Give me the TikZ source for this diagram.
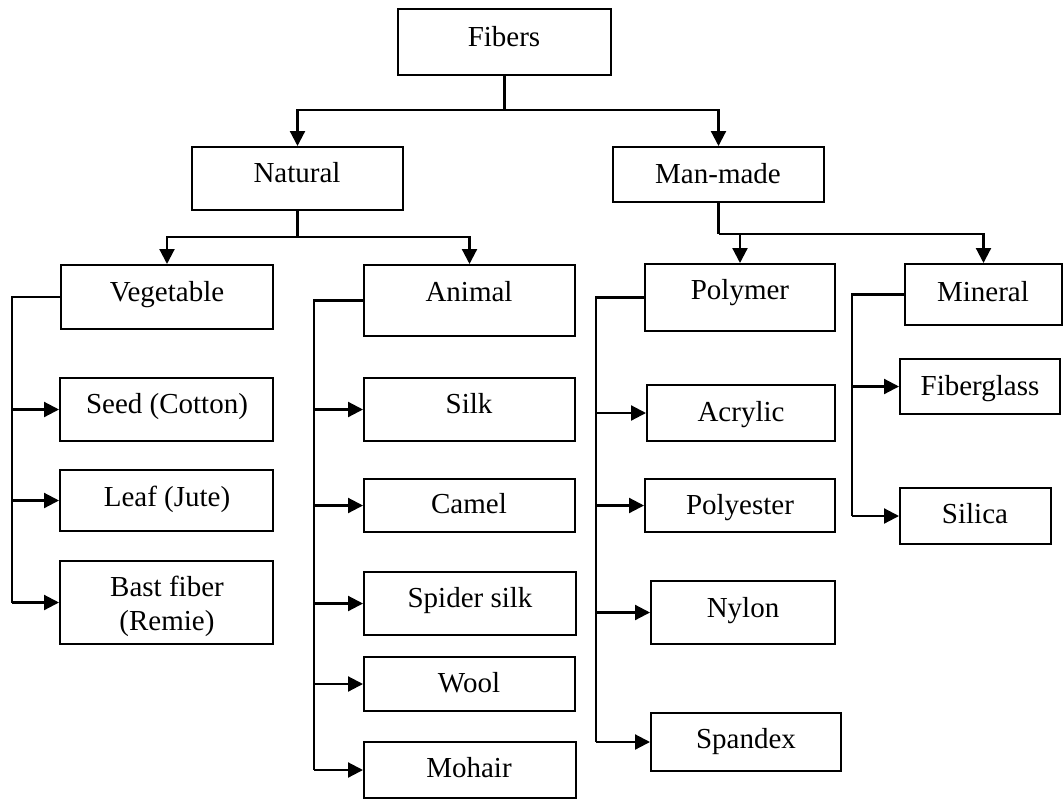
\documentclass[tikz,border=0pt]{standalone}
\usepackage{fontspec}
\setmainfont{Liberation Serif}
\usetikzlibrary{arrows.meta,fit}

\tikzset{
  box/.style={draw, line width=2pt, inner sep=0pt, fit={#1}},
  lbl/.style={anchor=base, inner sep=0pt, font=\fontsize{29}{34}\selectfont, align=center},
  wire/.style={line width=2.2pt},
  arr/.style={wire, -{Triangle[length=15pt,width=15pt]}}
}

\begin{document}
\begin{tikzpicture}[x=1pt, y=-1pt]
\useasboundingbox (0,0) rectangle (1063,801);

% ---- boxes: (left,top) (right,bottom)
\node[box={(398,9) (611,75)}]   (fib) {};
\node[box={(192,147) (403,210)}] (nat) {};
\node[box={(613,147) (824,202)}] (man) {};

\node[box={(61,265) (273,329)}]  (veg) {};
\node[box={(364,265) (575,336)}] (ani) {};
\node[box={(645,264) (835,331)}] (pol) {};
\node[box={(905,264) (1062,325)}] (mnr) {};

\node[box={(60,378) (273,441)}]  (seed) {};
\node[box={(60,470) (273,531)}]  (leaf) {};
\node[box={(60,561) (273,644)}]  (bast) {};

\node[box={(364,378) (575,441)}] (silk) {};
\node[box={(364,479) (575,532)}] (camel) {};
\node[box={(364,572) (576,635)}] (spider) {};
\node[box={(364,657) (575,711)}] (wool) {};
\node[box={(364,742) (576,798)}] (mohair) {};

\node[box={(647,385) (835,441)}] (acr) {};
\node[box={(645,479) (835,532)}] (poly) {};
\node[box={(651,581) (835,644)}] (nyl) {};
\node[box={(651,713) (841,771)}] (spx) {};

\node[box={(900,359) (1060,414)}] (fgl) {};
\node[box={(900,488) (1051,544)}] (sil) {};

% ---- labels (placed on their baselines; two-line text on its last line)
\node[lbl] (fibT)    at (504,46)  {Fibers};
\node[lbl] (natT)    at (297,182) {Natural};
\node[lbl] (manT)    at (718,183) {Man-made};
\node[lbl] (vegT)    at (167,301) {Vegetable};
\node[lbl] (aniT)    at (469,301) {Animal};
\node[lbl] (polT)    at (740,299) {Polymer};
\node[lbl] (mnrT)    at (983,301) {Mineral};
\node[lbl] (seedT)   at (167,413) {Seed (Cotton)};
\node[lbl] (leafT)   at (167,506) {Leaf (Jute)};
\node[lbl] (bastT)   at (167,630) {Bast fiber\\(Remie)};
\node[lbl] (silkT)   at (469,413) {Silk};
\node[lbl] (camelT)  at (469,513) {Camel};
\node[lbl] (spiderT) at (470,607) {Spider silk};
\node[lbl] (woolT)   at (469,692) {Wool};
\node[lbl] (mohairT) at (469,777) {Mohair};
\node[lbl] (acrT)    at (741,421) {Acrylic};
\node[lbl] (polyT)   at (740,514) {Polyester};
\node[lbl] (nylT)    at (743,617) {Nylon};
\node[lbl] (spxT)    at (746,748) {Spandex};
\node[lbl] (fglT)    at (980,395) {Fiberglass};
\node[lbl] (silT)    at (975,523) {Silica};

% ---- top levels
\coordinate (j0) at (504.5,110);
\draw[wire] (fib.south) -- (j0);
\draw[arr] (j0) -| (nat.north);
\draw[arr] (j0) -| (man.north);

\coordinate (j1) at (297.5,237);
\draw[wire] (nat.south) -- (j1);
\draw[arr] (j1) -| (veg.north);
\draw[arr] (j1) -| (ani.north);

\coordinate (j2) at (718.5,234);
\draw[wire] (man.south) -- (j2);
\draw[arr] (j2) -| (mnr.north);
\draw[arr] (j2 -| pol.north) -- (pol.north);

% ---- side rails
\coordinate (rv) at (12,0);
\coordinate (ra) at (314,0);
\coordinate (rp) at (596,0);
\coordinate (rm) at (852,0);

\draw[wire] (veg.west) -| (rv |- bast.west);
\foreach \c in {seed,leaf,bast}
  \draw[arr] (rv |- \c.west) -- (\c.west);

\draw[wire] (ani.west) -| (ra |- mohair.west);
\foreach \c in {silk,camel,spider,wool,mohair}
  \draw[arr] (ra |- \c.west) -- (\c.west);

\draw[wire] (pol.west) -| (rp |- spx.west);
\foreach \c in {acr,poly,nyl,spx}
  \draw[arr] (rp |- \c.west) -- (\c.west);

\draw[wire] (mnr.west) -| (rm |- sil.west);
\foreach \c in {fgl,sil}
  \draw[arr] (rm |- \c.west) -- (\c.west);
\end{tikzpicture}
\end{document}
